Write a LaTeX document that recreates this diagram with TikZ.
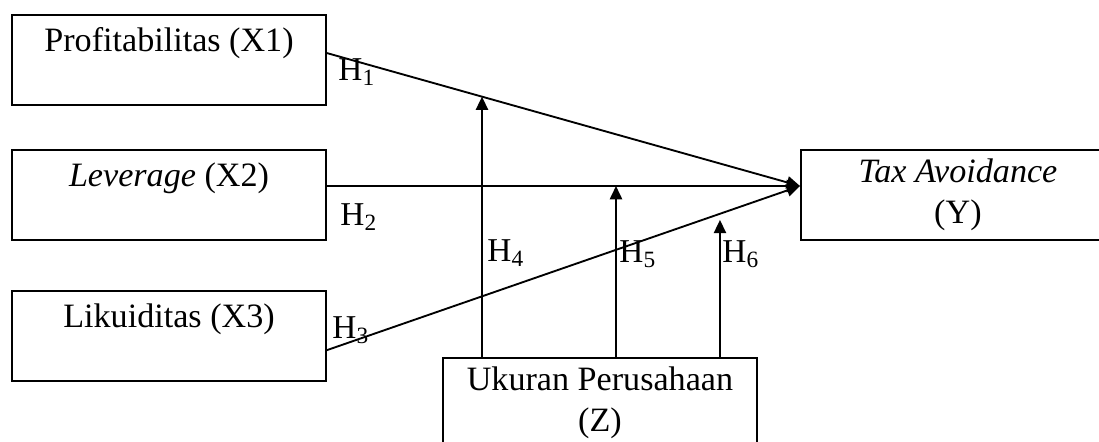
\documentclass[tikz,border=0pt]{standalone}
\usepackage{fontspec}
\setmainfont{Liberation Serif}
\usepackage{tikz}
\usetikzlibrary{arrows.meta,positioning}
\tikzset{
  varbox/.style={draw=black, line width=0.7pt, align=center, fill=white,
    minimum width=117.75pt, minimum height=33.75pt, inner sep=2pt,
    font=\fontsize{12.8}{15.4}\selectfont},
  arr/.style={-{Triangle[length=5pt,width=4.6pt]}, line width=0.7pt},
  hlabel/.style={inner sep=0pt, font=\fontsize{12.5}{15}\selectfont}
}

\begin{document}
\begin{tikzpicture}[x=0.375pt, y=-0.375pt]
  \useasboundingbox (0,0) rectangle (1099,441);
  \clip (0,0) rectangle (1099,441);

  \node[varbox] (x1) at (169,60) {Profitabilitas (X1)\\\mbox{}};
  \node[varbox, below=16.2pt of x1] (x2) {\textit{Leverage} (X2)\\\mbox{}};
  \node[varbox, below=18.4pt of x2] (x3) {Likuiditas (X3)\\\mbox{}};
  \node[varbox, right=177.4pt of x2] (y) {\textit{Tax Avoidance}\\(Y)};
  \node[varbox] (z) at (600,403) {Ukuran Perusahaan\\(Z)};

  \coordinate (tip) at ([yshift=3.4pt]y.west);
  \coordinate (s1) at ([yshift=2.6pt]x1.east);
  \coordinate (s2) at ([yshift=3.4pt]x2.east);
  \coordinate (s3) at ([yshift=-5.3pt]x3.east);

  \draw[arr] (s1) -- (tip);
  \draw[arr] (s2) -- (tip);
  \draw[arr] (s3) -- (tip);

  % moderating paths from Z
  \coordinate (m4) at ([xshift=-44.25pt]z.north);
  \coordinate (m5) at ([xshift=6pt]z.north);
  \coordinate (m6) at ([xshift=45pt]z.north);
  \coordinate (m4top) at (m4 |- x1.north);
  \coordinate (m6top) at (m6 |- x1.north);
  \coordinate (m4end) at (intersection of s1--tip and m4--m4top);
  \coordinate (m6x) at (intersection of s3--tip and m6--m6top);

  \draw[arr] (m4) -- (m4end);
  \draw[arr] (m5) -- (m5 |- tip);
  \draw[arr] (m6) -- ([yshift=-2.3pt]m6x);

  \node[hlabel] (h1) at (357,72) {H\textsubscript{1}};
  \node[hlabel] (h2) at (359,217) {H\textsubscript{2}};
  \node[hlabel] (h3) at (351,330) {H\textsubscript{3}};
  \node[hlabel] (h4) at (506,253) {H\textsubscript{4}};
  \node[hlabel] (h5) at (638,254) {H\textsubscript{5}};
  \node[hlabel] (h6) at (741,254) {H\textsubscript{6}};
\end{tikzpicture}
\end{document}
